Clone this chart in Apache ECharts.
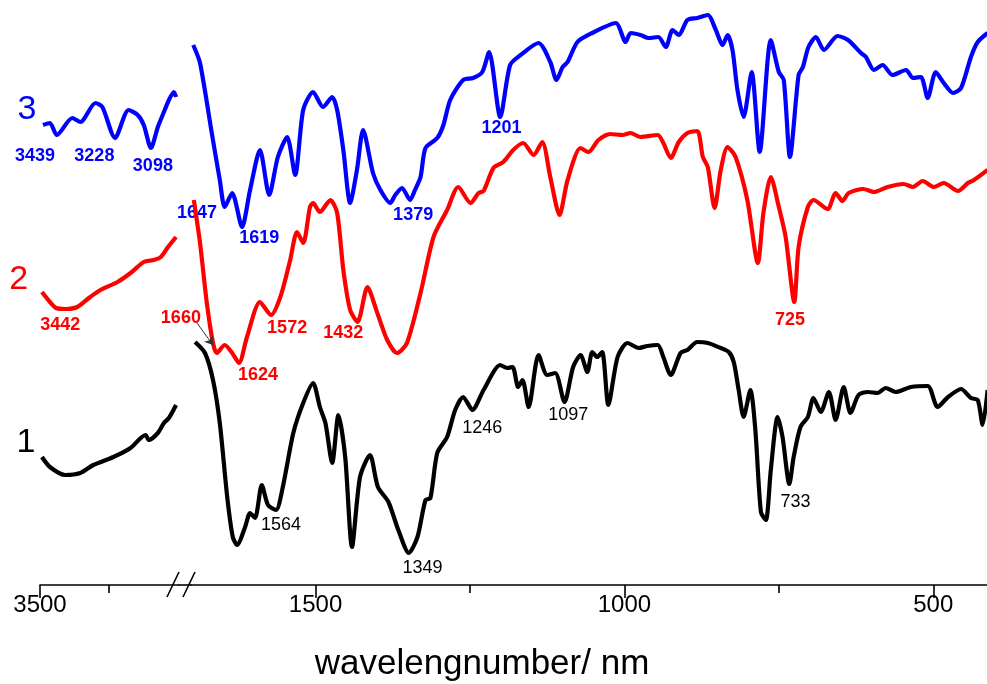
<!DOCTYPE html>
<html>
<head>
<meta charset="utf-8">
<script src="https://cdn.jsdelivr.net/npm/echarts@6/dist/echarts.min.js"></script>
<style>
  html, body { margin: 0; padding: 0; background: #fff; }
  #main { width: 987px; height: 684px; }
</style>
</head>
<body>
<div id="main"></div>
<script>
// IR spectra, [wavenumber, intensity (a.u., offset per curve)]
// high wavenumber window 3500-3000
const blueHigh = [[3489,460],[3464,462],[3439,450],[3383,467],[3354,463],[3299,482],[3274,478],[3228,447],[3179,475],[3146,470],[3124,460],[3098,437],[3073,458],[3051,473],[3033,485],[3015,493],[3007,488]];
const redHigh = [[3493,293],[3464,283],[3442,277],[3409,276],[3365,278],[3318,288],[3281,295],[3219,303],[3172,312],[3124,323],[3088,325],[3062,328],[3036,338],[3007,348]];
const blackHigh = [[3493,128],[3464,118],[3409,110],[3354,112],[3307,120],[3234,128],[3172,137],[3135,147],[3117,150],[3106,145],[3073,152],[3051,162],[3033,167],[3007,180]];

// low wavenumber window 1700-400
const blueLow = [[1698,540],[1687,522],[1668,452],[1655,405],[1647,378],[1635,392],[1619,358],[1606,395],[1590,435],[1575,390],[1561,428],[1546,448],[1533,410],[1520,475],[1504,493],[1488,478],[1473,488],[1465,475],[1455,435],[1444,382],[1433,415],[1423,455],[1407,412],[1395,395],[1379,382],[1371,390],[1360,397],[1347,385],[1339,395],[1330,408],[1322,437],[1303,447],[1293,460],[1282,485],[1261,505],[1245,507],[1230,513],[1219,533],[1201,468],[1185,520],[1168,530],[1139,542],[1120,523],[1110,505],[1100,518],[1092,523],[1076,543],[1052,552],[1014,562],[998,543],[990,552],[974,550],[961,547],[945,548],[933,538],[922,555],[912,550],[898,565],[882,567],[865,570],[852,555],[841,540],[833,550],[825,535],[817,495],[807,468],[794,513],[781,433],[763,545],[750,513],[742,505],[732,428],[718,510],[711,518],[702,538],[690,548],[677,535],[655,549],[638,545],[617,532],[609,528],[596,515],[582,520],[566,510],[544,515],[533,507],[520,508],[509,487],[496,513],[483,502],[468,492],[455,497],[439,528],[428,543],[412,552]];
const redLow = [[1697,385],[1687,342],[1676,282],[1666,242],[1660,232],[1647,240],[1635,232],[1624,222],[1611,248],[1590,283],[1572,270],[1557,288],[1541,325],[1530,353],[1520,342],[1509,378],[1504,382],[1493,373],[1476,385],[1465,372],[1455,315],[1444,275],[1432,263],[1416,298],[1400,272],[1384,245],[1368,232],[1352,242],[1330,292],[1309,348],[1287,375],[1269,398],[1249,382],[1236,392],[1228,394],[1212,417],[1196,423],[1180,435],[1164,442],[1147,430],[1133,443],[1120,408],[1105,370],[1092,405],[1071,437],[1058,433],[1042,445],[1023,451],[1003,450],[990,452],[974,448],[946,450],[937,442],[925,427],[912,443],[898,452],[882,454],[873,428],[865,418],[854,377],[844,415],[833,438],[820,428],[801,385],[784,322],[775,372],[763,408],[750,378],[739,348],[725,283],[718,338],[703,378],[694,385],[671,376],[658,392],[647,384],[637,392],[613,396],[596,393],[574,398],[548,401],[533,398],[517,404],[499,398],[483,402],[460,394],[444,402],[434,405],[412,415]];
const blackLow = [[1695,243],[1679,232],[1666,205],[1655,162],[1643,88],[1634,48],[1627,40],[1614,58],[1606,72],[1598,67],[1587,100],[1577,80],[1564,75],[1553,98],[1536,152],[1520,182],[1504,202],[1493,178],[1484,162],[1473,122],[1463,170],[1452,128],[1441,38],[1428,108],[1412,130],[1399,98],[1382,83],[1366,55],[1349,32],[1335,48],[1322,85],[1314,87],[1303,132],[1287,148],[1274,175],[1261,188],[1246,175],[1228,195],[1201,220],[1190,217],[1181,218],[1172,198],[1165,205],[1155,178],[1139,230],[1125,210],[1112,212],[1097,183],[1083,218],[1071,230],[1060,213],[1052,233],[1044,228],[1036,233],[1026,180],[1011,228],[995,242],[977,237],[963,239],[946,240],[937,228],[925,210],[909,232],[898,235],[882,243],[865,242],[844,237],[831,233],[823,223],[815,195],[807,168],[796,195],[788,155],[779,73],[771,65],[763,115],[752,168],[744,148],[733,101],[726,128],[715,158],[703,168],[694,187],[682,173],[669,193],[658,165],[645,198],[634,172],[621,190],[606,193],[590,192],[577,197],[561,193],[536,198],[509,199],[493,178],[476,188],[455,196],[439,187],[428,185],[420,160],[412,195]];

// peak labels
const blueHighPeaks = ['3439', '3228', '3098'];
const redHighPeaks = ['3442'];
const blueLowPeaks = ['1647', '1619', '1379', '1201'];
const redLowPeaks = ['1660', '1624', '1572', '1432', '725'];
const blackLowPeaks = ['1564', '1349', '1246', '1097', '733'];
const curveNames = ['3', '2', '1'];

// axis ticks
const highMajor = [3500];
const highMinor = [3250];
const lowMajor = [1500, 1000, 500];
const lowMinor = [1250, 750];

// where the label texts sit (data coords)
const blueHighAt = [[3518,429],[3303,429],[3091,419]];
const redHighAt = [[3427,260]];
const blueLowAt = [[1692,372],[1591,347],[1342,370],[1199,457]];
const redLowAt = [[1718,267],[1593,210],[1546,257],[1455,252],[732,265]];
const blackLowAt = [[1556,60],[1327,17],[1230,157],[1091,170],[723,83]];
const curveNameAt = [[3547,475],[3577,305],[3551,142]];

const BLUE = '#0000ff', RED = '#ff0000', BLACK = '#000000';
const FONT = '"Liberation Sans", Arial, sans-serif';

const chart = echarts.init(document.getElementById('main'));

function line(data, color, xi, yi) {
  return {
    type: 'line', data: data, xAxisIndex: xi, yAxisIndex: yi,
    showSymbol: false, smooth: 0.25, silent: true, animation: false,
    lineStyle: { color: color, width: 4.2 }
  };
}

function labels(texts, at, color, xi, yi, size, weight) {
  return {
    type: 'scatter', xAxisIndex: xi, yAxisIndex: yi, symbolSize: 0,
    clip: false, silent: true, animation: false,
    itemStyle: { opacity: 1 },
    data: texts.map((t, i) => ({ name: t, value: at[i] })),
    label: {
      show: true, position: 'inside', formatter: '{b}', color: color, opacity: 1,
      fontSize: size, fontWeight: weight, fontFamily: FONT
    }
  };
}

function xAxisPair(grid, min, max, major, minor) {
  const base = {
    gridIndex: grid, type: 'value', position: 'bottom', min: min, max: max, inverse: true,
    splitLine: { show: false }
  };
  return [
    Object.assign({}, base, {
      axisLine: { show: true, lineStyle: { color: '#000', width: 1.6 } },
      axisTick: { show: true, customValues: major, length: 13, lineStyle: { color: '#000', width: 1.6 } },
      axisLabel: {
        show: true, customValues: major, color: '#000', fontSize: 24, fontFamily: FONT, margin: 8,
        formatter: v => String(v)
      }
    }),
    Object.assign({}, base, {
      axisLine: { show: false },
      axisTick: { show: true, customValues: minor, length: 8, lineStyle: { color: '#000', width: 1.6 } },
      axisLabel: { show: false }
    })
  ];
}

const option = {
  backgroundColor: '#fff',
  animation: false,
  grid: [
    { left: 40, top: 0, width: 138, bottom: 99 },
    { left: 192, top: 0, right: 0, bottom: 99 }
  ],
  xAxis: [
    ...xAxisPair(0, 3000, 3500, highMajor, highMinor),
    ...xAxisPair(1, 413, 1700, lowMajor, lowMinor)
  ],
  yAxis: [
    { gridIndex: 0, type: 'value', min: 0, max: 585, show: false },
    { gridIndex: 1, type: 'value', min: 0, max: 585, show: false }
  ],
  series: [
    line(blueHigh, BLUE, 0, 0),
    line(redHigh, RED, 0, 0),
    line(blackHigh, BLACK, 0, 0),
    line(blueLow, BLUE, 2, 1),
    Object.assign(line(redLow, RED, 2, 1), {
      markLine: {
        silent: true, animation: false, symbol: ['none', 'arrow'], symbolSize: 8,
        label: { show: false },
        lineStyle: { color: '#333', width: 1, type: 'solid' },
        data: [[{ coord: [1692, 262] }, { coord: [1666, 240] }]]
      }
    }),
    line(blackLow, BLACK, 2, 1),
    labels(blueHighPeaks, blueHighAt, BLUE, 0, 0, 18, 'bold'),
    labels(redHighPeaks, redHighAt, RED, 0, 0, 18, 'bold'),
    labels(blueLowPeaks, blueLowAt, BLUE, 2, 1, 18, 'bold'),
    labels(redLowPeaks, redLowAt, RED, 2, 1, 18, 'bold'),
    labels(blackLowPeaks, blackLowAt, BLACK, 2, 1, 18, 'normal'),
    {
      type: 'scatter', xAxisIndex: 0, yAxisIndex: 0, symbolSize: 0,
      clip: false, silent: true, animation: false,
      itemStyle: { opacity: 1 },
      data: curveNames.map((t, i) => ({
        name: t, value: curveNameAt[i],
        label: { color: [BLUE, RED, BLACK][i] }
      })),
      label: { show: true, position: 'inside', formatter: '{b}', fontSize: 34, fontFamily: FONT, opacity: 1 }
    }
  ],
  graphic: [
    // axis line through the break and the // marks
    { type: 'line', shape: { x1: 178, y1: 585, x2: 192, y2: 585 }, style: { stroke: '#000', lineWidth: 1.6 } },
    { type: 'line', shape: { x1: 167, y1: 597, x2: 179, y2: 572 }, style: { stroke: '#000', lineWidth: 1.6 } },
    { type: 'line', shape: { x1: 183, y1: 597, x2: 195, y2: 572 }, style: { stroke: '#000', lineWidth: 1.6 } },
    {
      type: 'text', x: 482, y: 664,
      style: {
        text: 'wavelengnumber/ nm', fill: '#000', font: '35px ' + FONT,
        align: 'center', verticalAlign: 'middle'
      }
    }
  ]
};

chart.setOption(option);
</script>
</body>
</html>
